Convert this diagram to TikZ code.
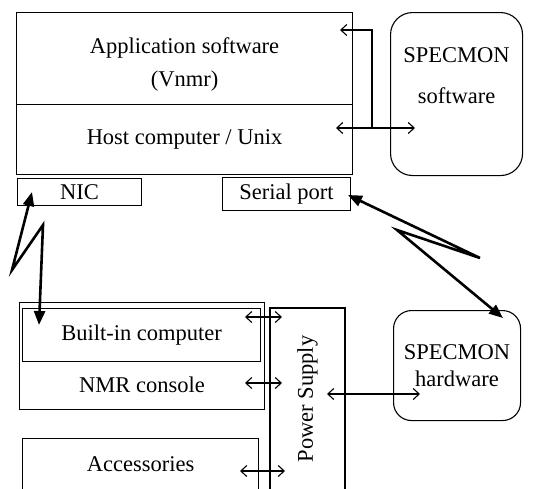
\documentclass[tikz,border=0pt]{standalone}
\usepackage{fontspec}
\setmainfont{Liberation Serif}
\usetikzlibrary{arrows.meta, positioning, calc}

\begin{document}
\begin{tikzpicture}[x=1pt, y=-1pt,
    font=\fontsize{22.5}{27}\selectfont,
    box/.style={draw, line width=1.1pt, anchor=north west, inner sep=0pt, align=center},
    rbox/.style={box, rounded corners=22pt},
    link/.style={line width=1.1pt, {Straight Barb[length=6pt,width=11pt]}-{Straight Barb[length=6pt,width=11pt]}},
    bolt/.style={line width=2.6pt, {Triangle[length=14pt,width=11pt]}-{Triangle[length=14pt,width=11pt]}}
]
    \useasboundingbox (0,0) rectangle (538,488);
    \clip (0,0) rectangle (538,488);

    % host side
    \node[box, minimum width=336pt, minimum height=92pt, text height=62pt, text depth=6pt] (app) at (16,12) {Application software\\[6pt](Vnmr)};
    \node[box, minimum width=336pt, minimum height=70pt] (host) at (16,104) {Host computer / Unix};
    \node[box, minimum width=124pt, minimum height=27pt] (nic) at (17,178) {NIC};
    \node[box, minimum width=128pt, minimum height=33pt] (serial) at (222,177) {Serial port};
    \node[rbox, minimum width=132pt, minimum height=163pt, text depth=37pt] (swspec) at (390,12) {SPECMON\\[14pt]software};

    % console side
    \node[box, minimum width=245pt, minimum height=107pt, text height=73pt, text depth=0pt] (console) at (19,302) {NMR console};
    \node[box, minimum width=238pt, minimum height=53pt] (bic) at (22,308) {Built-in computer};
    \node[box, minimum width=236pt, minimum height=52pt] (acc) at (22,438) {Accessories};
    \node[box, rotate=90, anchor=center, minimum width=182pt, minimum height=75pt] (psu) at (307.5,399) {Power Supply};
    \node[rbox, rounded corners=18pt, minimum width=127pt, minimum height=110pt] (hwspec) at (393,310) {SPECMON\\hardware};

    % link ends
    \coordinate (appin) at (340,30);
    \coordinate (tee) at (372,128);
    \coordinate (hostin) at (336,128);
    \coordinate (swin) at (415,128);
    \coordinate (nictip) at (32,192);
    \coordinate (nicb1) at (12,270);
    \coordinate (nicb2) at (43,225);
    \coordinate (bictip) at (39,325);
    \coordinate (sertip) at (348,195);
    \coordinate (serb1) at (480,258);
    \coordinate (serb2) at (397,230);
    \coordinate (hwtip) at (503,318);
    \coordinate (bicin) at (245,317);
    \coordinate (psua) at (282,317);
    \coordinate (consin) at (245,383);
    \coordinate (psub) at (282,383);
    \coordinate (accin) at (240,471);
    \coordinate (psuc) at (285,471);
    \coordinate (psuin) at (327,394);
    \coordinate (hwin) at (420,394);

    \draw[link] (hostin) -- (swin);
    \draw[line width=1.1pt, -{Straight Barb[length=6pt,width=11pt]}] (tee) |- (appin);
    \draw[bolt] (nictip) -- (nicb1) -- (nicb2) -- (bictip);
    \draw[bolt] (sertip) -- (serb1) -- (serb2) -- (hwtip);
    \draw[link] (bicin) -- (psua);
    \draw[link] (consin) -- (psub);
    \draw[link] (accin) -- (psuc);
    \draw[link] (psuin) -- (hwin);
\end{tikzpicture}
\end{document}
